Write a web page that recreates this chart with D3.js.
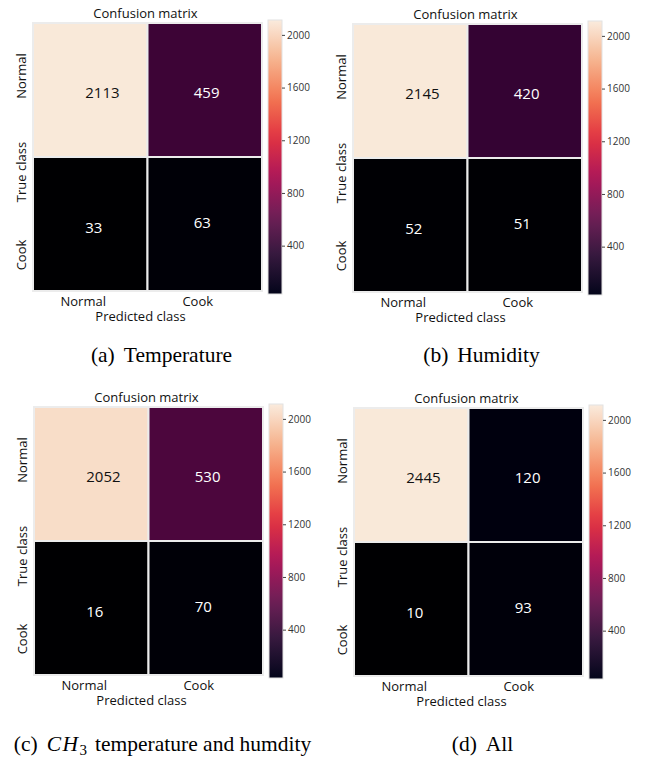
<!DOCTYPE html>
<html>
<head>
<meta charset="utf-8">
<script src="https://cdn.jsdelivr.net/npm/d3@7"></script>
<style>
  body { margin: 0; background: #fff; }
  text { font-family: "Open Sans", sans-serif; }
  .caption { font-family: "Liberation Serif", "Times New Roman", serif; }
</style>
</head>
<body>
<svg id="chart" width="652" height="758"></svg>
<script>
// data
const classes = ["Normal", "Cook"];
const matrixA = [[2113, 459], [33, 63]];
const matrixB = [[2145, 420], [52, 51]];
const matrixC = [[2052, 530], [16, 70]];
const matrixD = [[2445, 120], [10, 93]];
const cbTicks = [400, 800, 1200, 1600, 2000];
const colorDomain = [33, 2113];

// layout: heatmap box for each panel + caption
const W = 229, H = 268;
const panels = [
  { m: matrixA, x: 33, y: 23, tag: "(a)", cap: "Temperature", capY: 362 },
  { m: matrixB, x: 353, y: 24, tag: "(b)", cap: "Humidity", capY: 362 },
  { m: matrixC, x: 34, y: 407, tag: "(c)", cap: "CH3", capY: 751 },
  { m: matrixD, x: 354, y: 408, tag: "(d)", cap: "All", capY: 751 }
];

// seaborn "rocket" colour map
const rocketStops = ["#03051a", "#35193e", "#701f57", "#ad1759", "#e13342", "#f37651", "#f6b48f", "#faebdd"];
const rocket = d3.scaleLinear()
  .domain(rocketStops.map((c, i) => i / (rocketStops.length - 1)))
  .range(rocketStops)
  .interpolate(d3.interpolateRgb)
  .clamp(true);
const cbColor = d3.scaleSequential(rocket).domain(colorDomain);
// the cells in the figure have crushed blacks compared to the bar
const levels = d3.scaleLinear().domain([24, 255]).range([0, 255]).clamp(true);
const cellColor = v => {
  const c = d3.rgb(cbColor(Math.min(v, colorDomain[1])));
  return d3.rgb(levels(c.r), levels(c.g), levels(c.b)).formatHex();
};

// small nudges of the value labels, as in the figure
const nudge = [[[-5, 3], [-11, 3]], [[-5, 4], [-11, -1]]];

const svg = d3.select("#chart");
const defs = svg.append("defs");
const grad = defs.append("linearGradient").attr("id", "cbgrad")
  .attr("x1", 0).attr("x2", 0).attr("y1", 1).attr("y2", 0);
d3.range(0, 1.0001, 0.05).forEach(t => {
  grad.append("stop").attr("offset", t).attr("stop-color", rocket(t));
});

panels.forEach(p => {
  const g = svg.append("g").attr("transform", `translate(${p.x},${p.y})`);

  const x = d3.scaleBand().domain(classes).range([0, W]);
  const y = d3.scaleBand().domain(classes).range([0, H]);

  // cells
  const cells = [];
  p.m.forEach((row, i) => row.forEach((v, j) => cells.push({ i, j, v })));

  g.selectAll(".cell")
    .data(cells)
    .join("rect")
    .attr("class", "cell")
    .attr("x", d => x(classes[d.j]))
    .attr("y", d => y(classes[d.i]))
    .attr("width", x.bandwidth())
    .attr("height", y.bandwidth())
    .attr("fill", d => cellColor(d.v))
    .attr("stroke", "#ececec")
    .attr("stroke-width", 2);

  g.selectAll(".val")
    .data(cells)
    .join("text")
    .attr("class", "val")
    .attr("x", d => x(classes[d.j]) + x.bandwidth() / 2 + nudge[d.i][d.j][0])
    .attr("y", d => y(classes[d.i]) + y.bandwidth() / 2 + nudge[d.i][d.j][1])
    .attr("dy", "0.35em")
    .attr("font-size", 15)
    .attr("fill", d => d3.hsl(cellColor(d.v)).l > 0.5 ? "#111" : "#fff")
    .text(d => d.v);

  // title
  g.append("text")
    .attr("x", W / 2 - 2).attr("y", -10).attr("dy", "0.35em")
    .attr("text-anchor", "middle").attr("font-size", 13).attr("fill", "#111")
    .text("Confusion matrix");

  // x tick labels + label
  g.selectAll(".xt")
    .data(classes)
    .join("text")
    .attr("class", "xt")
    .attr("x", d => x(d) + x.bandwidth() / 2 - 7)
    .attr("y", H + 10).attr("dy", "0.35em")
    .attr("text-anchor", "middle").attr("font-size", 13).attr("fill", "#111")
    .text(d => d);
  g.append("text")
    .attr("x", W / 2 - 7).attr("y", H + 25).attr("dy", "0.35em")
    .attr("text-anchor", "middle").attr("font-size", 13).attr("fill", "#111")
    .text("Predicted class");

  // y tick labels share a column with the y label (stretched like the figure)
  const yLab = d3.scalePoint().domain(classes).range([53, H - 36]);
  g.selectAll(".yt")
    .data(classes)
    .join("text")
    .attr("class", "yt")
    .attr("transform", d => `translate(-12,${yLab(d)}) rotate(-90)`)
    .attr("dy", "0.35em")
    .attr("text-anchor", "middle").attr("font-size", 13).attr("fill", "#111")
    .text(d => d);
  g.append("text")
    .attr("transform", `translate(-12,${H / 2 + 15}) rotate(-90)`)
    .attr("dy", "0.35em")
    .attr("text-anchor", "middle").attr("font-size", 13).attr("fill", "#111")
    .text("True class");

  // colorbar
  const cbX = W + 6, cbW = 14;
  const cbY = d3.scaleLinear().domain(colorDomain).range([H + 3, -3]);
  g.append("rect")
    .attr("x", cbX).attr("y", cbY(colorDomain[1]))
    .attr("width", cbW).attr("height", cbY(colorDomain[0]) - cbY(colorDomain[1]))
    .attr("fill", "url(#cbgrad)")
    .attr("stroke", "#e2e2e2").attr("stroke-width", 1);
  const cbAxis = g.append("g")
    .attr("transform", `translate(${cbX + cbW},0)`)
    .call(d3.axisRight(cbY).tickValues(cbTicks).tickFormat(d3.format("d")).tickSize(3).tickPadding(2));
  cbAxis.select(".domain").remove();
  cbAxis.selectAll("line").attr("stroke", "#444");
  cbAxis.selectAll("text").attr("font-size", 10).attr("fill", "#333")
    .attr("font-family", "Open Sans, sans-serif");

  // caption
  const cap = svg.append("text")
    .attr("class", "caption")
    .attr("x", p.x + W / 2 + 14).attr("y", p.capY)
    .attr("text-anchor", "middle").attr("font-size", 21.5).attr("fill", "#000");
  cap.append("tspan").text(p.tag);
  if (p.cap === "CH3") {
    cap.append("tspan").attr("dx", 9).attr("font-style", "italic").attr("letter-spacing", 1.5).text("CH");
    cap.append("tspan").attr("font-size", 15).attr("dy", 4).text("3");
    cap.append("tspan").attr("dy", -4).attr("dx", 8).text("temperature and humdity");
  } else {
    cap.append("tspan").attr("dx", 9).text(p.cap);
  }
});
</script>
</body>
</html>
